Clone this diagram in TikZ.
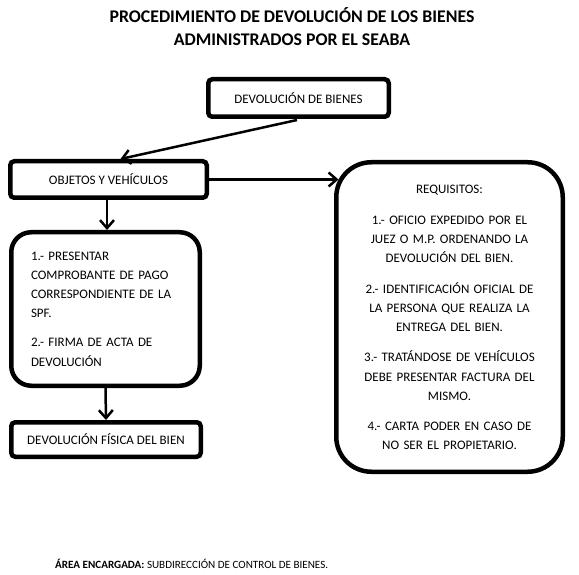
\documentclass[tikz,border=0pt]{standalone}
\usepackage{fontspec}
\setmainfont{Carlito}
\usetikzlibrary{arrows.meta}
\begin{document}
\begin{tikzpicture}[x=1pt,y=-1pt,
  box/.style={draw=black, line width=4.5pt, rounded corners=4pt, fill=white, inner sep=0pt,
    font=\fontsize{13}{19.2}\selectfont},
  roundbox/.style={box, rounded corners=#1},
  arr/.style={draw=black, line width=2.5pt, -{Straight Barb[length=8pt,width=14pt,line width=2.5pt]}},
  ttl/.style={font=\fontsize{17.8}{21}\selectfont\bfseries, inner sep=0pt}
]
\useasboundingbox (0,0) rectangle (579,575);
\fill[white] (0,0) rectangle (579,575);

\node[ttl] (t1) at (292,15) {PROCEDIMIENTO DE DEVOLUCIÓN DE LOS BIENES};
\node[ttl] (t2) at (292,40) {ADMINISTRADOS POR EL SEABA};

\node[box, minimum width=180.5pt, minimum height=37.5pt] (b1) at (298.5,98) {DEVOLUCIÓN DE BIENES};
\node[box, minimum width=196.5pt, minimum height=36.5pt] (b2) at (108.5,179.5) {OBJETOS Y VEHÍCULOS};
\node[roundbox=20pt, minimum width=188.5pt, minimum height=153.5pt, text width=149pt, align=left] (b3) at (105.5,309)
  {1.- PRESENTAR\\ COMPROBANTE DE PAGO\\ CORRESPONDIENTE DE LA\\ SPF.\\[10pt] 2.- FIRMA DE ACTA DE\\ DEVOLUCIÓN};
\node[box, minimum width=189.5pt, minimum height=34.5pt] (b4) at (106,439.5) {DEVOLUCIÓN FÍSICA DEL BIEN};
\node[roundbox=35pt, minimum width=226.5pt, minimum height=309.5pt, text width=200pt, align=center] (b5) at (449.5,317)
  {REQUISITOS:\\[12pt]
   1.- OFICIO EXPEDIDO POR EL\\ JUEZ O M.P. ORDENANDO LA\\ DEVOLUCIÓN DEL BIEN.\\[11.5pt]
   2.- IDENTIFICACIÓN OFICIAL DE\\ LA PERSONA QUE REALIZA LA\\ ENTREGA DEL BIEN.\\[11pt]
   3.- TRATÁNDOSE DE VEHÍCULOS\\ DEBE PRESENTAR FACTURA DEL\\ MISMO.\\[10.5pt]
   4.- CARTA PODER EN CASO DE\\ NO SER EL PROPIETARIO.};

\coordinate (a1s) at ([xshift=-1.5pt,yshift=-1pt]b1.south);
\coordinate (a1e) at ([xshift=12pt]b2.north);
\coordinate (a2e) at ([xshift=4.5pt]b2.east -| b5.west);
\draw[arr] (a1s) -- (a1e);
\draw[arr] (b2.east) -- (a2e);
\draw[arr] ([xshift=-1.5pt]b2.south) -- ([xshift=1.5pt]b3.north);
\draw[arr] (b3.south) -- (b4.north);

\node[anchor=west, inner sep=0pt, font=\fontsize{11.1}{13}\selectfont] (foot) at (55,564)
  {\textbf{ÁREA ENCARGADA:} SUBDIRECCIÓN DE CONTROL DE BIENES.};
\end{tikzpicture}
\end{document}
